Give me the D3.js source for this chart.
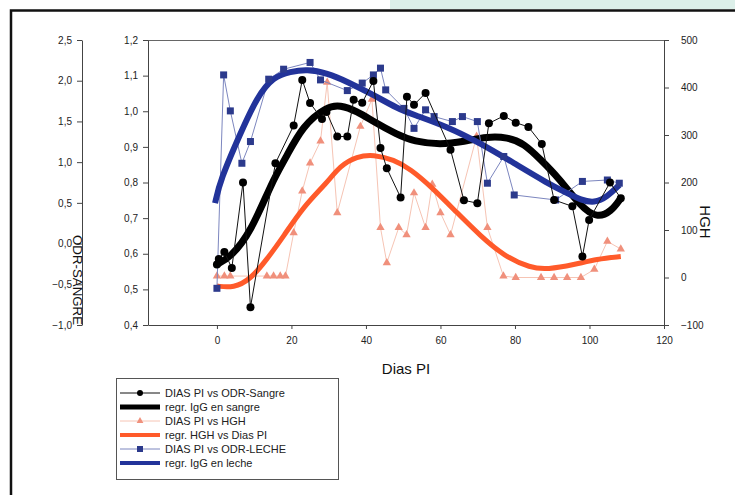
<!DOCTYPE html>
<html>
<head>
<meta charset="utf-8">
<script src="https://cdn.jsdelivr.net/npm/d3@7"></script>
<style>
  body { margin: 0; background: #fff; }
  text { font-family: "Liberation Sans", Arial, sans-serif; }
</style>
</head>
<body>
<div id="mainDiv"></div>
<script>
// ODR-Sangre (points + regression), left inner axis
let sangreDays = [0, 0.5, 2, 4, 7, 9, 15.7, 20.6, 22.9, 25, 28.2, 29.4, 32.3, 35, 36.7, 39, 42, 43.9, 45.6, 49.3, 51, 52.9, 56, 62.7, 66.3, 69.9, 73, 77, 80.2, 83.6, 87.2, 90.5, 95.4, 98.1, 99.9, 105.5, 108.4];
let sangreValues = [0.57, 0.585, 0.605, 0.56, 0.80, 0.45, 0.854, 0.96, 1.088, 1.023, 0.978, 0.998, 0.929, 0.929, 1.032, 1.024, 1.085, 0.897, 0.84, 0.758, 1.041, 1.018, 1.051, 0.892, 0.75, 0.742, 0.966, 0.987, 0.968, 0.956, 0.908, 0.751, 0.733, 0.592, 0.695, 0.80, 0.756];
let sangreRegDays = [0, 3.6, 9, 15, 18.3, 23, 29.5, 33, 37.6, 42, 48.4, 52.9, 60, 66.3, 72.6, 78, 82.4, 87, 91.4, 97.7, 102, 105.8, 108.4];
let sangreRegValues = [0.57, 0.59, 0.658, 0.807, 0.865, 0.96, 1.013, 1.018, 1.0, 0.971, 0.934, 0.915, 0.906, 0.915, 0.929, 0.927, 0.91, 0.863, 0.817, 0.732, 0.70, 0.718, 0.756];

// HGH (points + regression), right axis
let hghDays = [0, 2, 3.6, 13.4, 15.2, 17, 18.4, 20.6, 22.9, 25, 27.8, 29.6, 32.3, 38.5, 41.6, 43.9, 45.6, 48.8, 50.9, 52.9, 56, 57.8, 60, 62.7, 69.7, 72.6, 76.9, 80.2, 87, 90.5, 94, 97.7, 101.3, 104.8, 108.4];
let hghValues = [3, 3, 3, 3, 3, 3, 3, 94, 182, 241, 287, 411, 136, 318, 375, 105, 31, 105, 90, 178, 105, 196, 136, 90, 297, 105, 3, 0, 0, 0, 0, 0, 17, 76, 60];
let hghRegDays = [0, 4.5, 9, 13.4, 17.9, 23.3, 29.5, 33, 37.6, 42, 47.5, 52, 57.4, 64.5, 70.8, 77.1, 84.2, 88.7, 95.9, 102, 108.4];
let hghRegValues = [-18, -22, -4, 38, 87, 150, 199, 235, 255, 259, 248, 228, 192, 136, 87, 45, 20, 17, 27, 39, 44];

// ODR-Leche (points + regression), left inner axis
let lecheDays = [0, 1.8, 3.6, 6.7, 9, 13.9, 17.9, 25, 27.8, 35, 39, 42, 43.9, 45.3, 50.2, 52.9, 56, 58.3, 63.2, 65.9, 69.9, 72.6, 77, 79.8, 90.9, 98.1, 104.8, 108];
let lecheValues = [0.503, 1.102, 1.001, 0.854, 0.915, 1.09, 1.118, 1.137, 1.088, 1.058, 1.079, 1.102, 1.121, 1.06, 1.008, 0.952, 1.004, 0.985, 0.971, 0.985, 0.971, 0.798, 0.873, 0.765, 0.751, 0.803, 0.807, 0.798];
let lecheRegDays = [-0.5, 0.9, 6.3, 10.8, 15.2, 19.7, 24.2, 29.6, 35, 42, 48.4, 52.9, 61.8, 70.8, 79.8, 88.7, 94, 97.7, 101.3, 104.8, 108];
let lecheRegValues = [0.742, 0.807, 0.938, 1.041, 1.097, 1.111, 1.118, 1.107, 1.083, 1.046, 1.008, 0.99, 0.957, 0.91, 0.854, 0.798, 0.77, 0.751, 0.742, 0.76, 0.793];

let xTicks = [0, 20, 40, 60, 80, 100, 120];
let innerTicks = [0.4, 0.5, 0.6, 0.7, 0.8, 0.9, 1.0, 1.1, 1.2];
let outerTicks = [-1.0, -0.5, 0.0, 0.5, 1.0, 1.5, 2.0, 2.5];
let rightTicks = [-100, 0, 100, 200, 300, 400, 500];

let legendLabels = ["DIAS PI vs ODR-Sangre", "regr. IgG en sangre", "DIAS PI vs HGH",
  "regr. HGH vs Dias PI", "DIAS PI vs ODR-LECHE", "regr. IgG en leche"];

let chartSize = { width: 735, height: 495, margin: { top: 40, right: 71, bottom: 170, left: 148 } };

const comma = d => d3.format(".1f")(d).replace(".", ",");
const zip = (a, b) => a.map((d, i) => [d, b[i]]);

const svg = d3.select("#mainDiv")
  .append("svg")
  .attr("width", chartSize.width)
  .attr("height", chartSize.height);

svg.append("rect").attr("width", chartSize.width).attr("height", chartSize.height).attr("fill", "#fff");
svg.append("rect").attr("x", 390).attr("y", 0).attr("width", 345).attr("height", 9).attr("fill", "#dcefe9");
svg.append("path").attr("d", "M11,495V10.5H735").attr("fill", "none").attr("stroke", "#111").attr("stroke-width", 2.5);

let x = d3.scaleLinear()
  .domain([-18.5, 120])
  .range([chartSize.margin.left, chartSize.width - chartSize.margin.right]);
let yIn = d3.scaleLinear().domain([0.4, 1.2]).range([325, 40]);
let yOut = d3.scaleLinear().domain([-1, 2.5]).range([325, 40]);
let yR = d3.scaleLinear().domain([-100, 500]).range([325, 40]);

function styleAxis(g) {
  g.selectAll("path, line").attr("stroke", "#444");
  g.selectAll("text").attr("font-size", 10).attr("fill", "#222").attr("font-family", "Liberation Sans, Arial, sans-serif");
}

// frame top line
svg.append("line").attr("x1", x.range()[0]).attr("x2", x.range()[1])
  .attr("y1", 40.5).attr("y2", 40.5).attr("stroke", "#666");

svg.append("g")
  .attr("transform", "translate(0,325)")
  .call(d3.axisBottom(x).tickValues(xTicks).tickSize(4).tickSizeOuter(0).tickPadding(8))
  .call(styleAxis);

svg.append("g")
  .attr("transform", `translate(${chartSize.margin.left},0)`)
  .call(d3.axisLeft(yIn).tickValues(innerTicks).tickFormat(comma).tickSize(5).tickSizeOuter(0).tickPadding(5))
  .call(styleAxis);

svg.append("g")
  .attr("transform", "translate(82,0)")
  .call(d3.axisLeft(yOut).tickValues(outerTicks).tickFormat(comma).tickSize(5).tickSizeOuter(0).tickPadding(5))
  .call(styleAxis);

svg.append("g")
  .attr("transform", `translate(${x.range()[1]},0)`)
  .call(d3.axisRight(yR).tickValues(rightTicks).tickSize(5).tickSizeOuter(0).tickPadding(12))
  .call(styleAxis);

// axis titles
svg.append("text").attr("x", 406).attr("y", 374).attr("text-anchor", "middle")
  .attr("font-size", 15).attr("fill", "#111").text("Dias PI");
svg.append("text").attr("transform", "translate(700,222) rotate(90)").attr("text-anchor", "middle")
  .attr("font-size", 15).attr("fill", "#111").text("HGH");
svg.append("text").attr("transform", "translate(73,280) rotate(90)").attr("text-anchor", "middle")
  .attr("font-size", 12).attr("fill", "#111").attr("textLength", 90).attr("lengthAdjust", "spacingAndGlyphs")
  .text("ODR-SANGRE");

let lineIn = d3.line().x(d => x(d[0])).y(d => yIn(d[1]));
let lineR = d3.line().x(d => x(d[0])).y(d => yR(d[1]));
let smoothIn = d3.line().curve(d3.curveBasis).x(d => x(d[0])).y(d => yIn(d[1]));
let smoothR = d3.line().curve(d3.curveBasis).x(d => x(d[0])).y(d => yR(d[1]));

const plot = svg.append("g");

// HGH points
plot.append("path").datum(zip(hghDays, hghValues)).attr("d", lineR)
  .attr("fill", "none").attr("stroke", "#f6c4b4").attr("stroke-width", 1);
plot.append("g").selectAll("path").data(zip(hghDays, hghValues)).join("path")
  .attr("transform", d => `translate(${x(d[0])},${yR(d[1])})`)
  .attr("d", d3.symbol(d3.symbolTriangle, 30))
  .attr("fill", "#f0907c");
plot.append("path").datum(zip(hghRegDays, hghRegValues)).attr("d", smoothR)
  .attr("fill", "none").attr("stroke", "#ff5a2a").attr("stroke-width", 5);

// sangre regression
plot.append("path").datum(zip(sangreRegDays, sangreRegValues)).attr("d", smoothIn)
  .attr("fill", "none").attr("stroke", "#000").attr("stroke-width", 7);

// leche
plot.append("path").datum(zip(lecheDays, lecheValues)).attr("d", lineIn)
  .attr("fill", "none").attr("stroke", "#7c86bf").attr("stroke-width", 1);
plot.append("path").datum(zip(lecheRegDays, lecheRegValues)).attr("d", smoothIn)
  .attr("fill", "none").attr("stroke", "#22339a").attr("stroke-width", 6);
plot.append("g").selectAll("rect").data(zip(lecheDays, lecheValues)).join("rect")
  .attr("x", d => x(d[0]) - 3.5).attr("y", d => yIn(d[1]) - 3.5)
  .attr("width", 7).attr("height", 7).attr("fill", "#2c3a8c");

// sangre points
plot.append("path").datum(zip(sangreDays, sangreValues)).attr("d", lineIn)
  .attr("fill", "none").attr("stroke", "#111").attr("stroke-width", 1);
plot.append("g").selectAll("circle").data(zip(sangreDays, sangreValues)).join("circle")
  .attr("cx", d => x(d[0])).attr("cy", d => yIn(d[1])).attr("r", 4)
  .attr("fill", "#000");

// legend
const legend = svg.append("g");
legend.append("rect").attr("x", 116.5).attr("y", 378.5).attr("width", 222).attr("height", 101)
  .attr("fill", "#fff").attr("stroke", "#555");
let legendY = d3.scalePoint().domain(d3.range(legendLabels.length)).range([393, 463]);
let legendStyles = [
  { stroke: "#111", width: 1, mark: "circle", fill: "#000" },
  { stroke: "#000", width: 5 },
  { stroke: "#f6c4b4", width: 1, mark: "triangle", fill: "#f0907c" },
  { stroke: "#ff5a2a", width: 4 },
  { stroke: "#7c86bf", width: 1, mark: "square", fill: "#2c3a8c" },
  { stroke: "#22339a", width: 4 }
];
legendLabels.forEach((label, i) => {
  let yy = legendY(i);
  let s = legendStyles[i];
  legend.append("line").attr("x1", 120).attr("x2", 160).attr("y1", yy).attr("y2", yy)
    .attr("stroke", s.stroke).attr("stroke-width", s.width);
  if (s.mark == "circle") {
    legend.append("circle").attr("cx", 140).attr("cy", yy).attr("r", 3).attr("fill", s.fill);
  } else if (s.mark == "triangle") {
    legend.append("path").attr("transform", `translate(140,${yy})`)
      .attr("d", d3.symbol(d3.symbolTriangle, 20)).attr("fill", s.fill);
  } else if (s.mark == "square") {
    legend.append("rect").attr("x", 137).attr("y", yy - 3).attr("width", 6).attr("height", 6).attr("fill", s.fill);
  }
  legend.append("text").attr("x", 165).attr("y", yy + 4).attr("font-size", 11).attr("fill", "#222").text(label);
});
</script>
</body>
</html>
